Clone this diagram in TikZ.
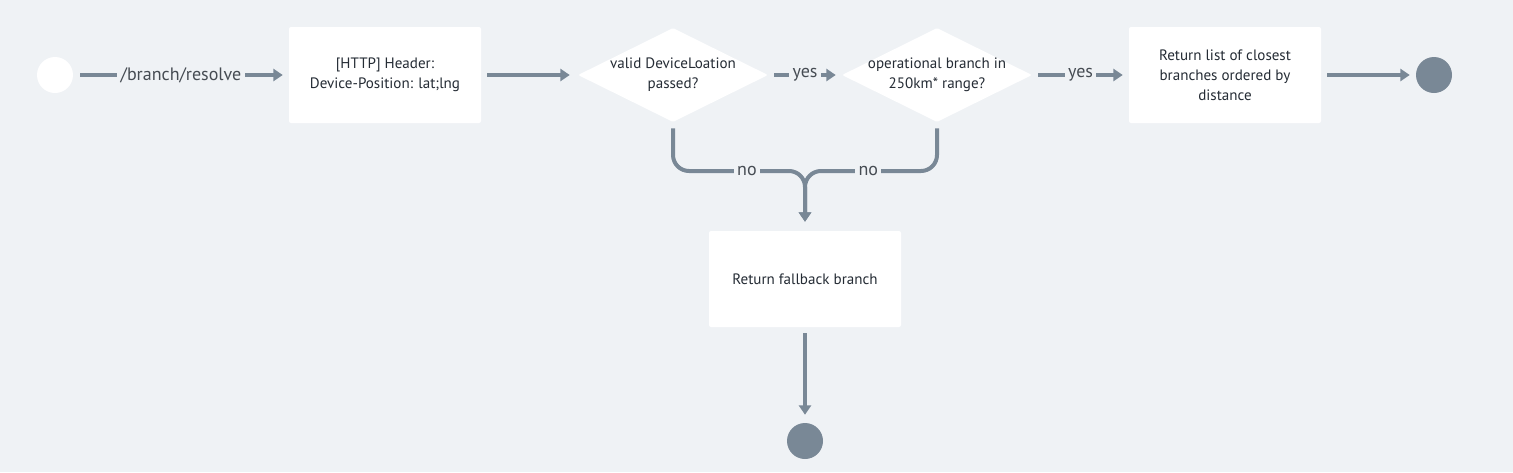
\documentclass[tikz,border=0pt]{standalone}
\usepackage{fontspec}
\setmainfont{PT Sans}
\usetikzlibrary{shapes.geometric,arrows.meta}

\definecolor{pagebg}{HTML}{EFF2F5}
\definecolor{flowgray}{HTML}{798896}
\definecolor{inkdark}{HTML}{252C35}

\tikzset{
  task/.style={fill=white, rounded corners=1.5pt, minimum width=144pt, minimum height=72pt,
    align=center, text=inkdark, font=\fontsize{11.3}{15}\selectfont},
  decision/.style={diamond, fill=white, minimum width=142.5pt, minimum height=70.5pt,
    inner sep=0pt, rounded corners=1pt},
  decisiontext/.style={align=center, text=inkdark, font=\fontsize{11.3}{15}\selectfont},
  startdot/.style={circle, fill=white, minimum size=27pt, inner sep=0pt},
  enddot/.style={circle, fill=flowgray, minimum size=27pt, inner sep=0pt},
  flow/.style={draw=flowgray, line width=3pt, -{Triangle[length=7pt,width=9pt]},
    shorten <=4.5pt, shorten >=4.5pt},
  edgelbl/.style={fill=pagebg, sharp corners, inner sep=2.5pt, text=inkdark!85,
    font=\fontsize{13.5}{15}\selectfont}
}

\begin{document}
\begin{tikzpicture}[x=0.75pt, y=-0.75pt]
\fill[pagebg] (0,0) rectangle (1513,472);

% main line
\node[startdot] (start) at (55,75) {};
\node[task] (header) at (385,75) {[HTTP] Header:\\Device-Position: lat;lng};
\node[decision] (validloc) at (673,75) {};
\node[decisiontext] at (validloc) {valid DeviceLoation\\passed?};
\node[decision] (inrange) at (937,75) {};
\node[decisiontext] at (inrange) {operational branch in\\250km* range?};
\node[task] (closest) at (1225,75) {Return list of closest\\branches ordered by\\distance};
\node[enddot] (done) at (1434,75) {};

% fallback
\coordinate (merge) at (805,171);
\node[task] (fallback) at (805,279) {Return fallback branch};
\node[enddot] (donefb) at (805,441) {};

\draw[flow, shorten <=5.25pt] (start) -- node[edgelbl] {/branch/resolve} (header);
\draw[flow, shorten >=6pt] (header) -- (validloc);
\draw[flow] (validloc) -- node[edgelbl] {yes} (inrange);
\draw[flow] (inrange) -- node[edgelbl] {yes} (closest);
\draw[flow] (closest) -- (done);

\draw[flow, rounded corners=12pt, shorten >=6.75pt] (validloc.south) |- node[edgelbl, pos=0.78] {no} (merge) -- (fallback.north);
\draw[flow, rounded corners=12pt, shorten >=6.75pt] (inrange.south) |- node[edgelbl, pos=0.76] {no} (merge) -- (fallback.north);
\draw[flow, shorten >=6pt] (fallback) -- (donefb);
\end{tikzpicture}
\end{document}
